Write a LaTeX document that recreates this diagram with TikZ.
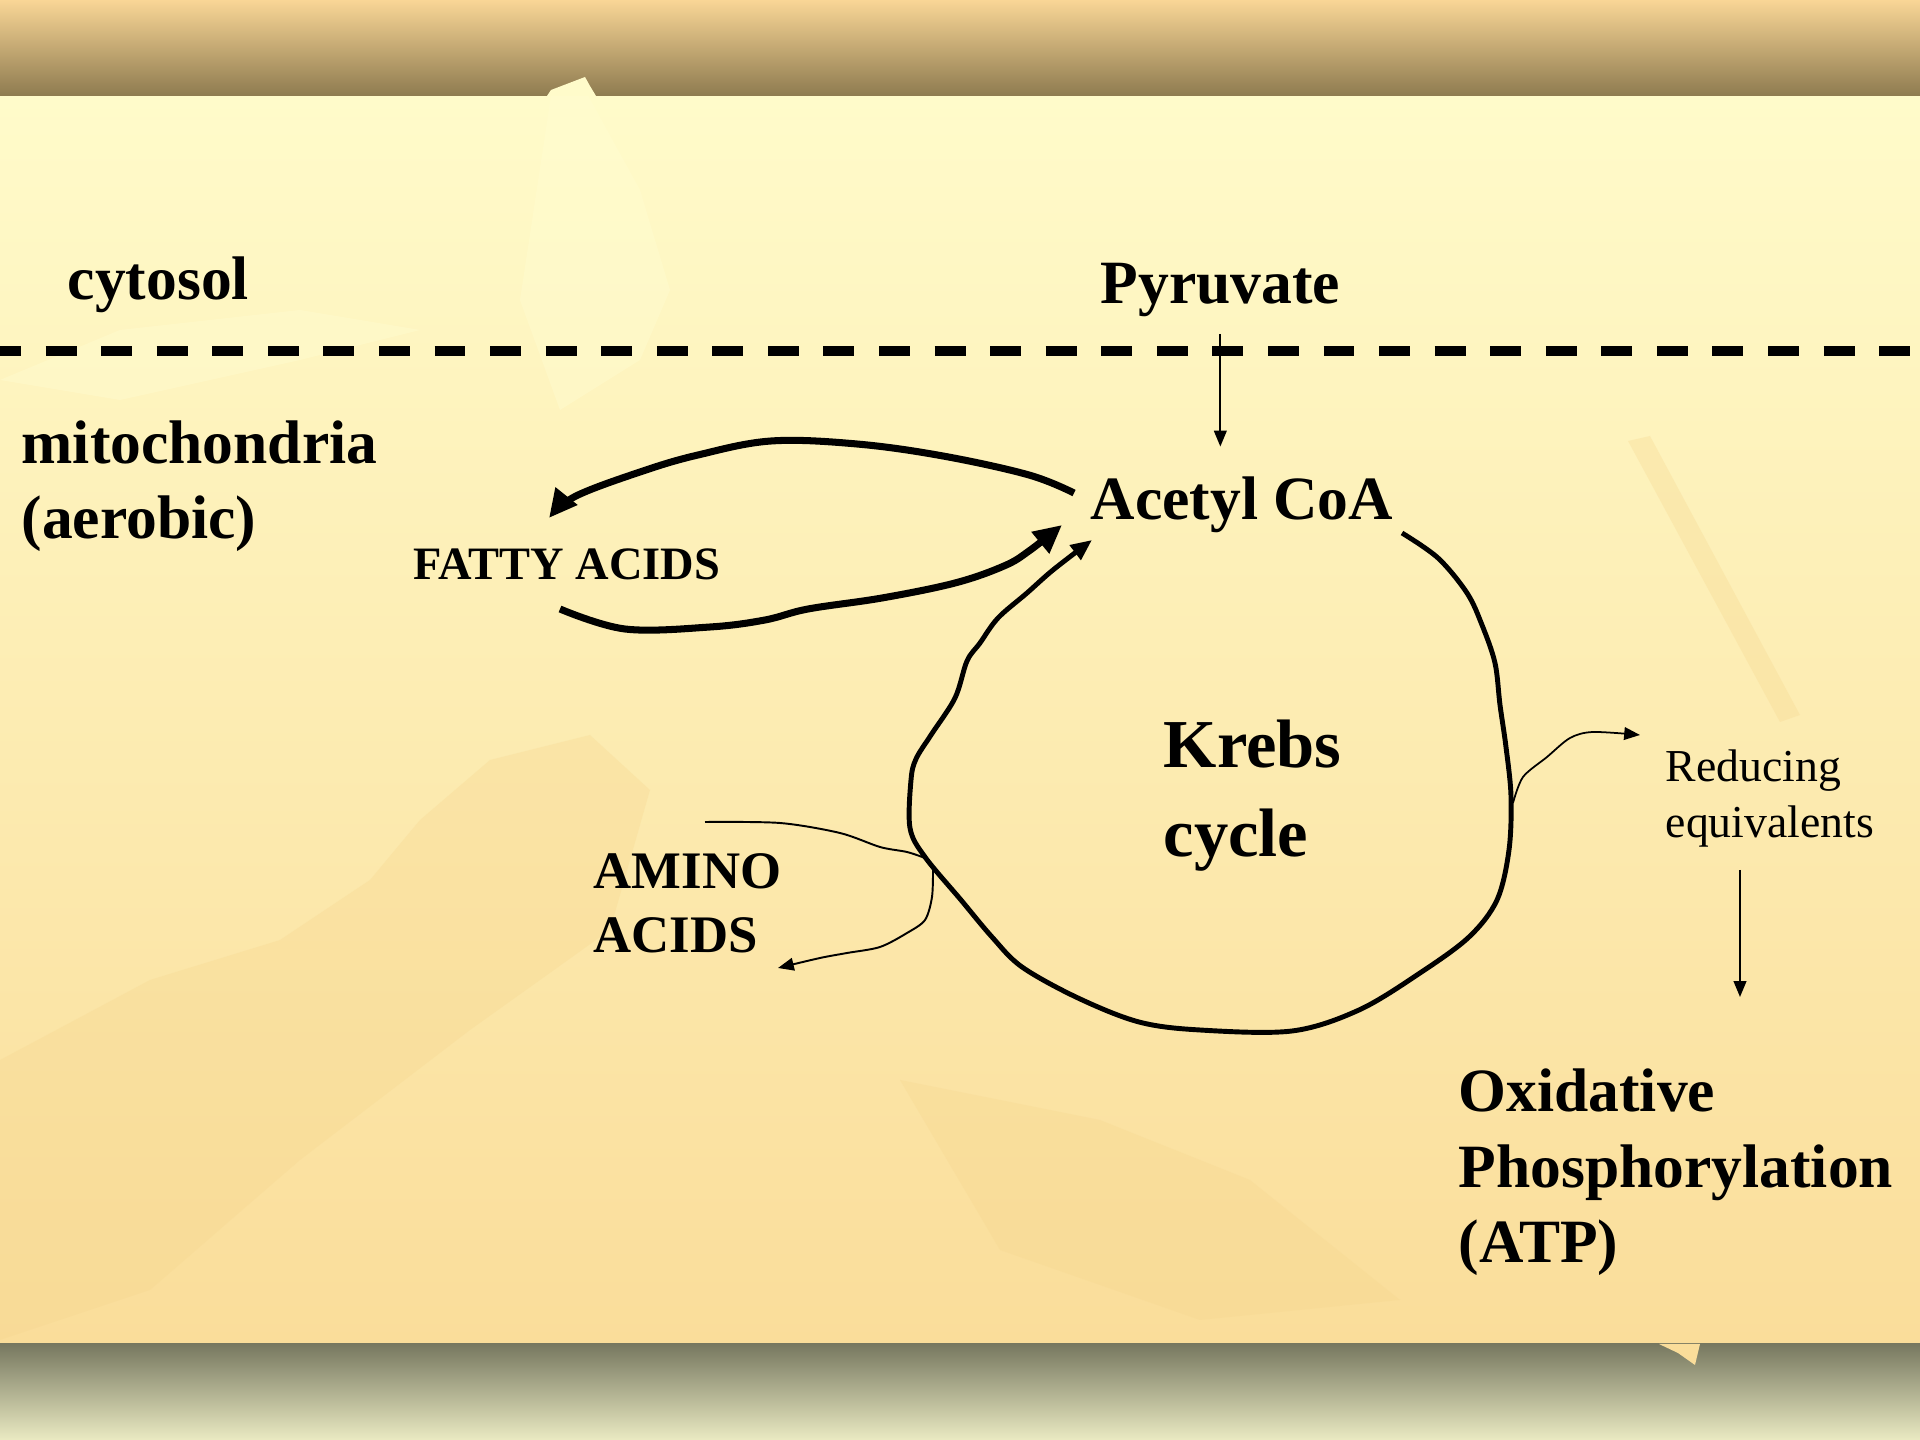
\documentclass[tikz,border=0pt]{standalone}
\usepackage{fontspec}
\setmainfont{Liberation Serif}
\usetikzlibrary{arrows.meta}

\definecolor{barTop}{HTML}{F9D696}
\definecolor{barBot}{HTML}{8E7B50}
\definecolor{footTop}{HTML}{777860}
\definecolor{footBot}{HTML}{EAEAC2}
\definecolor{paperTop}{HTML}{FFFBCA}
\definecolor{paperBot}{HTML}{FADD9A}
\definecolor{leafDark}{HTML}{F6D68E}
\definecolor{leafLight}{HTML}{FFFDD2}

\tikzset{
  region/.style={anchor=base west,inner sep=0pt,align=left,
    font=\bfseries\fontsize{17.5}{21.5}\selectfont},
  metab/.style={anchor=base west,inner sep=0pt,
    font=\bfseries\fontsize{17.5}{21}\selectfont},
  small/.style={anchor=base west,inner sep=0pt,align=left,
    font=\bfseries\fontsize{15}{18.2}\selectfont},
  cyclename/.style={anchor=base west,inner sep=0pt,align=left,
    font=\bfseries\fontsize{19.5}{25.4}\selectfont},
  note/.style={anchor=base west,inner sep=0pt,align=left,
    font=\fontsize{13}{16.2}\selectfont},
  bigflow/.style={line width=2pt,line join=round,-{Triangle[length=8pt,width=7.5pt]}},
  cycleline/.style={line width=1.4pt,line join=round,-{Triangle[length=6pt,width=5pt]}},
  thinflow/.style={line width=0.5pt,-{Triangle[length=4.5pt,width=3.6pt]}},
  leafpale/.style={fill=leafLight,opacity=0.4},
  leafdeep/.style={fill=leafDark,opacity=0.3}
}

\begin{document}
\begin{tikzpicture}[x=0.01cm,y=-0.01cm]
\useasboundingbox (0,0) rectangle (1920,1440);

% background
\shade[top color=paperTop,bottom color=paperBot] (0,96) rectangle (1920,1344);
\fill[leafdeep] (0,1060) -- (150,980) -- (280,940) -- (370,880) -- (420,820) -- (490,760)
  -- (590,735) -- (650,790) -- (610,930) -- (470,1030) -- (300,1160) -- (150,1290) -- (0,1340) -- cycle;
\fill[leafdeep] (1628,441) -- (1650,436) -- (1800,715) -- (1780,722) -- cycle;
\fill[leafpale] (551,96) -- (585,90) -- (640,190) -- (670,290) -- (640,360) -- (560,410) -- (520,300) -- cycle;
\fill[leafpale] (0,380) -- (120,330) -- (300,310) -- (420,330) -- (300,360) -- (120,400) -- cycle;
\fill[leafdeep] (900,1080) -- (1100,1120) -- (1250,1180) -- (1400,1300) -- (1200,1320) -- (1000,1250) -- cycle;

% bars
\shade[top color=barTop,bottom color=barBot] (0,0) rectangle (1920,96);
\shade[top color=footTop,bottom color=footBot] (0,1344) rectangle (1920,1440);
\fill[paperTop] (547,96) -- (551,90) -- (585,77) -- (590,86) -- (596,96) -- cycle;
\fill[paperBot] (1659,1344) -- (1678,1353) -- (1695,1365) -- (1700,1344) -- cycle;

% membrane
\draw[line width=2.6pt,dash pattern=on 8.8pt off 7pt] (-10,351) -- (1930,351);

% labels (multi-line ones sit on their last baseline)
\node[region] (cyto) at (67,300) {cytosol};
\node[region] (pyr) at (1100,304) {Pyruvate};
\node[region] (mito) at (21,539) {mitochondria\\(aerobic)};
\node[metab] (acetyl) at (1090,520) {Acetyl CoA};
\node[anchor=base west,inner sep=0pt,font=\bfseries\fontsize{13.2}{16}\selectfont] (fatty) at (413,580) {FATTY ACIDS};
\node[cyclename] (krebs) at (1163,857) {Krebs\\cycle};
\node[small] (amino) at (593,953) {AMINO\\ACIDS};
\node[note] (redeq) at (1665,838) {Reducing\\equivalents};
\node[region] (oxphos) at (1458,1263) {Oxidative\\Phosphorylation\\(ATP)};

\coordinate (rdtop) at (1740,870);
\coordinate (rdbot) at (1740,997);

% arrows
\draw[thinflow] ([yshift=-0.16cm]pyr.south) -- ([yshift=0.3cm]pyr.south |- acetyl.north);
\draw[thinflow] (rdtop) -- (rdbot);

\draw[bigflow] plot[smooth,tension=0.6] coordinates {(1074,493) (1029,475) (943,456) (857,444)
  (771,441) (698,455) (643,471) (576,496) (549,518)};
\draw[bigflow] plot[smooth,tension=0.6] coordinates {(560,609) (625,629) (710,627) (765,620)
  (808,609) (882,598) (955,583) (1004,566) (1029,551) (1062,525)};

\draw[cycleline] plot[smooth,tension=0.55] coordinates {(1402,533) (1438,558) (1467,593) (1482,625)
  (1495,663) (1500,705) (1506,747) (1511,796) (1509,850) (1497,900) (1469,937) (1420,973)
  (1359,1010) (1292,1031) (1200,1030) (1139,1022) (1078,998) (1022,967) (992,937) (961,900)
  (925,857) (910,828) (911,780) (916,759) (931,735) (955,698) (967,661) (980,643) (998,618)
  (1027,593) (1053,570) (1092,540)};

\draw[line width=0.55pt] plot[smooth] coordinates {(705,822) (780,823) (840,833) (880,847) (907,852) (925,858)};
\draw[thinflow,line width=0.55pt] plot[smooth] coordinates {(933,870) (932,897) (925,920) (907,933)
  (880,947) (847,953) (820,958) (778,968)};
\draw[thinflow] plot[smooth] coordinates {(1513,803) (1523,777) (1547,757) (1570,738) (1593,732) (1640,735)};
\end{tikzpicture}
\end{document}
